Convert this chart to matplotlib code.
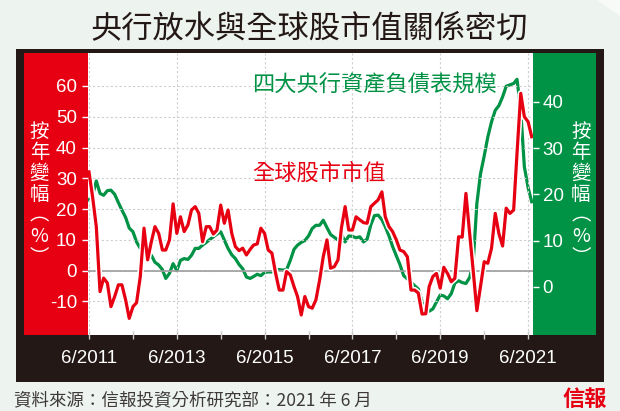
import matplotlib
matplotlib.use("Agg")
import matplotlib.pyplot as plt
import matplotlib.patheffects as pe
from matplotlib.patches import Rectangle, Polygon
import pandas as pd

plt.rcParams['font.family'] = ['Noto Sans CJK TC', 'DejaVu Sans']

# monthly, 6/2011 - 7/2021
months = pd.date_range("2011-06-01", periods=122, freq="MS")

# 全球股市市值 按年變幅 (%) - left axis
stocks = [32.1, 24.0, 14.3, -6.8, -2.4, -4.0, -11.7, -8.4, -4.6, -4.6,
          -9.5, -15.5, -11.7, -10.4, -1.9, 13.8, 3.5, 9.4, 14.3, 12.1,
          6.7, 6.7, 10.0, 21.7, 12.1, 17.5, 12.7, 14.8, 19.7, 20.8,
          18.6, 9.4, 14.3, 14.3, 11.9, 13.2, 21.3, 15.4, 19.7, 12.1,
          7.8, 6.5, 7.3, 5.1, 6.9, 8.3, 8.7, 13.8, 12.1, 6.7,
          5.7, -0.9, -6.3, -6.3, -0.3, -1.4, -5.2, -8.4, -14.4, -8.4,
          -11.7, -12.2, -9.5, -3.0, 4.5, 10.0, 0.8, 1.3, 3.5, 13.8,
          20.8, 13.2, 13.2, 17.5, 16.5, 15.6, 15.4, 20.8, 21.9, 23.0,
          25.6, 17.5, 14.3, 12.7, 10.0, 6.7, 6.2, 4.5, -6.3, -6.3,
          -7.3, -14.1, -14.0, -5.2, -1.9, -0.9, -5.7, 1.1, -0.9, -3.6,
          -2.5, 11.0, 10.9, 25.1, 12.1, 0.2, -13.0, -5.2, 2.9, 2.4,
          7.3, 18.6, 12.1, 8.0, 20.3, 18.6, 19.7, 38.1, 57.6, 50.0,
          48.4, 43.5]

# 四大央行資產負債表規模 按年變幅 (%) - right axis
banks = [18.8, 19.8, 22.9, 20.2, 19.8, 20.8, 20.9, 20.0, 18.2, 16.6,
         15.0, 12.7, 11.9, 9.7, 8.3, 7.9, 7.5, 6.8, 5.3, 4.7,
         3.7, 1.8, 2.9, 5.0, 3.5, 5.7, 6.1, 5.9, 6.8, 8.3,
         8.3, 9.0, 9.6, 10.2, 10.8, 11.4, 11.9, 10.1, 8.3, 6.9,
         6.1, 4.8, 3.9, 2.1, 1.8, 2.2, 2.7, 2.4, 3.1, 3.2,
         3.2, 3.8, 3.7, 3.6, 3.7, 5.7, 8.1, 9.0, 9.6, 10.0,
         11.0, 12.6, 13.3, 13.3, 14.4, 12.8, 11.3, 10.7, 10.1, 11.4,
         9.7, 11.0, 10.9, 10.6, 10.8, 9.7, 10.3, 13.4, 15.4, 15.5,
         14.5, 13.0, 11.0, 8.7, 6.7, 4.8, 2.4, 1.7, 1.0, 0.2,
         -0.5, -3.2, -4.3, -5.3, -4.8, -3.3, -1.8, -2.0, -2.6, -1.5,
         0.8, 1.3, 0.9, 0.7, 2.0, 5.0, 18.0, 24.4, 28.3, 32.4,
         35.7, 38.2, 39.2, 41.1, 43.4, 43.7, 44.0, 44.9, 38.2, 26.0,
         21.5, 18.4]

major_ticks = pd.to_datetime(["2011-06-01", "2013-06-01", "2015-06-01",
                              "2017-06-01", "2019-06-01", "2021-06-01"])
minor_ticks = pd.to_datetime(["2012-06-01", "2014-06-01", "2016-06-01",
                              "2018-06-01", "2020-06-01"])
x_labels = ["6/2011", "6/2013", "6/2015", "6/2017", "6/2019", "6/2021"]
left_ticks = [-10, 0, 10, 20, 30, 40, 50, 60]
right_ticks = [0, 10, 20, 30, 40]

BG = '#EDF3EE'
DARK = '#231815'
RED = '#E60012'
GREEN = '#009245'
W, H = 620, 411


def box(x0, y0, x1, y1):
    # pixel box (top-left origin) -> figure fraction rect
    return (x0 / W, 1 - y1 / H), (x1 - x0) / W, (y1 - y0) / H


fig = plt.figure(figsize=(6.2, 4.11), dpi=100, facecolor=BG)
fig.add_artist(Polygon([(597 / W, 1), (1, 1), (1, 1 - 16 / H)], closed=True,
                       transform=fig.transFigure, facecolor='#F7FAF7',
                       edgecolor='none', zorder=-10))
for (x0, y0, x1, y1), c in [((16, 49, 604, 382), DARK),
                            ((24, 53, 88, 335), RED),
                            ((533, 53, 596, 335), GREEN)]:
    xy, w, h = box(x0, y0, x1, y1)
    fig.add_artist(Rectangle(xy, w, h, transform=fig.transFigure,
                             facecolor=c, edgecolor='none', zorder=-5))

ax = fig.add_axes([88 / W, 1 - 335 / H, 445 / W, 282 / H])
ax2 = ax.twinx()
ax.set_zorder(ax2.get_zorder() + 1)
ax.patch.set_visible(False)
ax2.patch.set_visible(True)
ax2.patch.set_facecolor('white')

ax2.plot(months, banks, color=GREEN, lw=2.3, solid_joinstyle='round')
ax.plot(months, stocks, color=RED, lw=2.3, solid_joinstyle='round',
        path_effects=[pe.Stroke(linewidth=4.5, foreground='white'), pe.Normal()])
ax.axhline(0, color='#9d9d9d', lw=1.2, zorder=1)

ax.set_ylim(-20.9, 70.7)
ax2.set_ylim(-10.45, 50.6)
ax.set_xlim(pd.Timestamp("2011-05-24"), pd.Timestamp("2021-07-12"))

ax.set_xticks(major_ticks)
ax.set_xticklabels(x_labels, fontfamily='Liberation Sans', fontsize=13.5)
ax.set_xticks(minor_ticks, minor=True)
ax.set_yticks(left_ticks)
ax.set_yticklabels([str(v) for v in left_ticks], fontfamily='Liberation Sans', fontsize=13.5)
ax2.set_yticks(right_ticks)
ax2.set_yticklabels([str(v) for v in right_ticks], fontfamily='Liberation Sans', fontsize=13.5)

ax.grid(axis='both', which='major', color='#cfcfcf', lw=0.8, ls=(0, (2, 2)))
ax.set_axisbelow(True)

ax.tick_params(axis='y', colors='white', length=4, width=1, pad=4)
ax2.tick_params(axis='y', colors='white', length=4.5, width=1, pad=2.5)
ax.tick_params(axis='x', which='both', color='#c8c8c8', labelcolor='white',
               direction='inout', length=6, width=1, pad=8)
for a in (ax, ax2):
    for s in a.spines.values():
        s.set_visible(False)

ax.text(0.368, 0.8865, "四大央行資產負債表規模", transform=ax.transAxes,
        ha='left', va='center', fontsize=16, color=GREEN)
ax.text(0.368, 0.573, "全球股市市值", transform=ax.transAxes,
        ha='left', va='center', fontsize=16, color=RED)

ylab = "\n".join("按年變幅︵%︶")
fig.text(39.5 / W, 1 - 194 / H, ylab, ha='center', va='center', color='white',
         fontsize=14, linespacing=1.0)
fig.text(581 / W, 1 - 194 / H, ylab, ha='center', va='center', color='white',
         fontsize=14, linespacing=1.0)

fig.text(309.5 / W, 1 - 28 / H, "央行放水與全球股市值關係密切", ha='center', va='center',
         fontsize=22.5, color=DARK)
fig.text(14 / W, 1 - 400 / H, "資料來源：信報投資分析研究部：2021 年 6 月", ha='left',
         va='center', fontsize=12.6, color='#3e3a39')
fig.text(585 / W, 1 - 399 / H, "信報", ha='center', va='center', fontsize=16,
         color=RED, fontweight='bold')

fig.savefig("out.png", dpi=100, facecolor=BG)
